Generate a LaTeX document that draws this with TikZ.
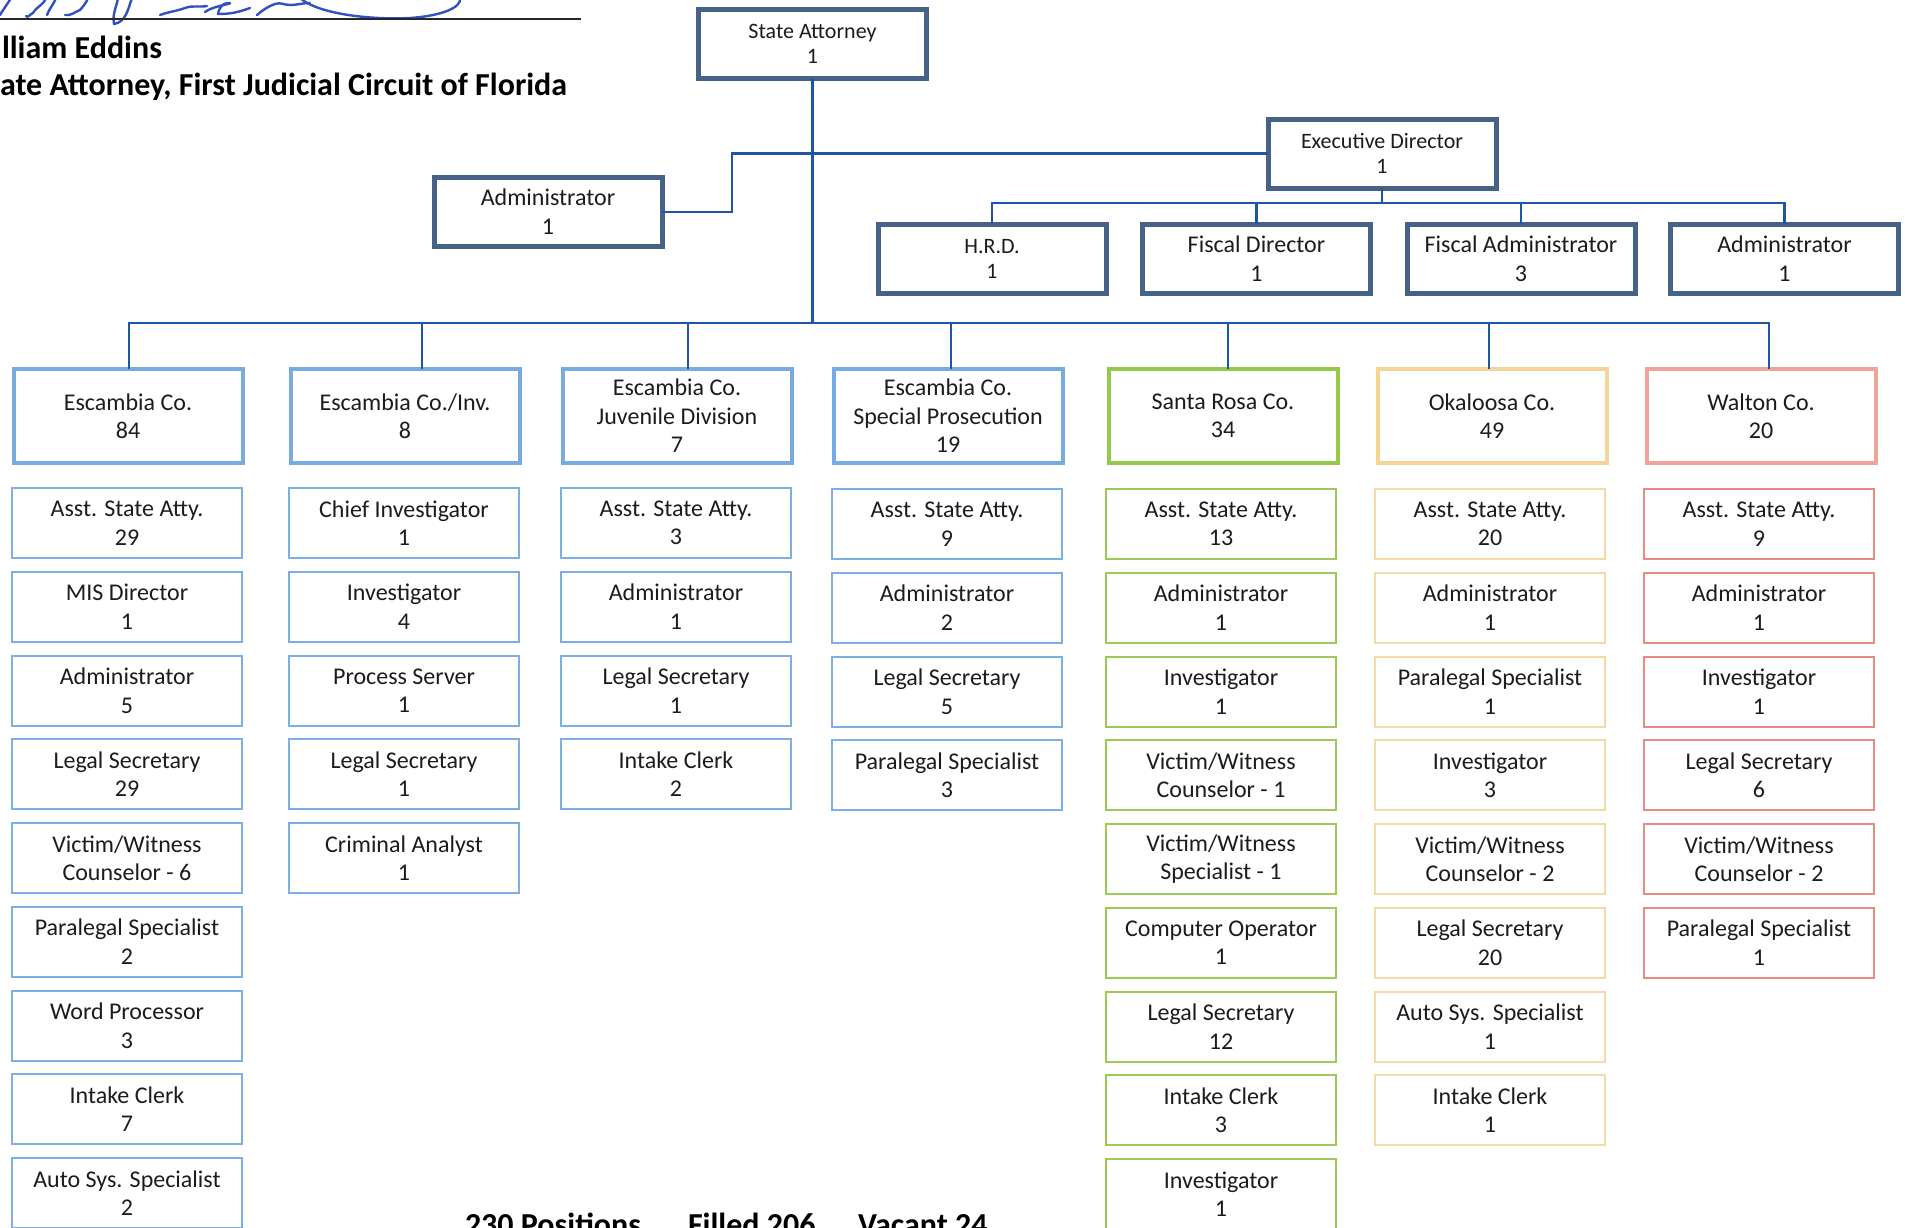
\documentclass[tikz,border=0pt]{standalone}
\usepackage{fontspec}
\setmainfont{Carlito}
\definecolor{topc}{RGB}{70,98,135}
\definecolor{linec}{RGB}{30,85,165}
\definecolor{escC}{RGB}{120,172,225}
\definecolor{escS}{RGB}{125,175,228}
\definecolor{srC}{RGB}{150,200,75}
\definecolor{srS}{RGB}{155,202,85}
\definecolor{okC}{RGB}{245,212,152}
\definecolor{okS}{RGB}{245,218,165}
\definecolor{waC}{RGB}{236,165,150}
\definecolor{waS}{RGB}{232,140,130}
\definecolor{txt}{RGB}{28,28,28}
\definecolor{ink}{RGB}{50,80,190}
\begin{document}
\begin{tikzpicture}[x=1pt,y=-1pt,
  every node/.style={text=txt},
  topbox/.style={draw=topc, line width=5pt, minimum width=228pt, minimum height=69pt,
    inner sep=0pt, outer sep=0pt, align=center, font=\fontsize{24}{29}\selectfont},
  smalltext/.style={font=\fontsize{22}{25}\selectfont},
  county/.style={draw=#1, line width=4pt, minimum width=229pt, minimum height=94pt,
    inner sep=0pt, outer sep=0pt, align=center, font=\fontsize{24}{28.5}\selectfont},
  sub/.style={draw=#1, line width=2pt, minimum width=230pt, minimum height=70pt,
    inner sep=0pt, outer sep=0pt, align=center, font=\fontsize{24}{28.5}\selectfont},
  conn/.style={draw=linec, line width=2.2pt},
  hdr/.style={inner sep=0pt, outer sep=0pt, font=\fontsize{32}{38}\selectfont\bfseries, text=black}
]
\useasboundingbox (0,0) rectangle (1905,1227);
\fill[white] (0,0) rectangle (1905,1227);

% signature and signature line
\begin{scope}[draw=ink, line width=2.4pt, line cap=round, line join=round]
  \draw (0,15) to[out=60,in=240] (11,-2);
  \draw (26,16) to[out=-60,in=200] (33,13) to[out=60,in=250] (46,-2);
  \draw (47,15) to[out=70,in=250] (56,-2);
  \draw (65,15) to[out=-10,in=200] (80,10) to[out=50,in=250] (88,-2);
  \draw (118,-2) to[out=260,in=100] (114,24) to[out=10,in=250] (132,-2);
  \draw (160,15) to[out=20,in=200] (185,8) to[out=20,in=190] (207,6);
  \draw (205,12) to[out=40,in=0] (228,3) to[out=180,in=80] (218,14) to[out=0,in=200] (250,8);
  \draw (257,15) to[out=40,in=200] (275,4) to[out=20,in=180] (290,5) to[out=0,in=180] (310,3);
  \draw (300,-2) .. controls (318,14) and (370,20) .. (410,18) .. controls (440,16) and (462,8) .. (460,-2);
\end{scope}
\draw[line width=2pt, black!85] (0,19) -- (581,19);
\node[hdr, anchor=base west] (nm) at (2,58) {lliam Eddins};
\node[hdr, anchor=base west] (ttl) at (0,95) {ate Attorney, First Judicial Circuit of Florida};

% top level
\node[topbox, smalltext] (sa) at (812.5,44) {State Attorney\\1};
\node[topbox, smalltext] (ed) at (1382,153.5) {Executive Director\\1};
\node[topbox] (adm) at (548,212) {Administrator\\1};
\node[topbox, smalltext] (hrd) at (992,258.5) {H.R.D.\\1};
\node[topbox] (fd) at (1256.5,258.5) {Fiscal Director\\1};
\node[topbox] (fa) at (1521,258.5) {Fiscal Administrator\\3};
\node[topbox] (adm2) at (1784.5,258.5) {Administrator\\1};

% county offices
\node[county=escC] (c1) at (128,416) {Escambia Co.\\84};
\node[county=escC] (c2) at (405,416) {Escambia Co./Inv.\\8};
\node[county=escC] (c3) at (677,416) {Escambia Co.\\Juvenile Division\\7};
\node[county=escC] (c4) at (948,416) {Escambia Co.\\Special Prosecution\\19};
\node[county=srC] (c5) at (1223,416) {Santa Rosa Co.\\34};
\node[county=okC] (c6) at (1492,416) {Okaloosa Co.\\49};
\node[county=waC] (c7) at (1761,416) {Walton Co.\\20};

% positions under each office
\foreach \txt [count=\i] in {{Asst. State Atty.\\29},{MIS Director\\1},{Administrator\\5},
    {Legal Secretary\\29},{Victim/Witness\\Counselor - 6},{Paralegal Specialist\\2},
    {Word Processor\\3},{Intake Clerk\\7},{Auto Sys. Specialist\\2}}
  \node[sub=escS] (c1r\i) at (127,{523+(\i-1)*83.75}) {\txt};
\foreach \txt [count=\i] in {{Chief Investigator\\1},{Investigator\\4},{Process Server\\1},
    {Legal Secretary\\1},{Criminal Analyst\\1}}
  \node[sub=escS] (c2r\i) at (404,{523+(\i-1)*83.75}) {\txt};
\foreach \txt [count=\i] in {{Asst. State Atty.\\3},{Administrator\\1},{Legal Secretary\\1},
    {Intake Clerk\\2}}
  \node[sub=escS] (c3r\i) at (676,{523+(\i-1)*83.75}) {\txt};
\foreach \txt [count=\i] in {{Asst. State Atty.\\9},{Administrator\\2},{Legal Secretary\\5},
    {Paralegal Specialist\\3}}
  \node[sub=escS] (c4r\i) at (947,{524+(\i-1)*83.75}) {\txt};
\foreach \txt [count=\i] in {{Asst. State Atty.\\13},{Administrator\\1},{Investigator\\1},
    {Victim/Witness\\Counselor - 1},{Victim/Witness\\Specialist - 1},{Computer Operator\\1},
    {Legal Secretary\\12},{Intake Clerk\\3},{Investigator\\1}}
  \node[sub=srS] (c5r\i) at (1221,{524+(\i-1)*83.75}) {\txt};
\foreach \txt [count=\i] in {{Asst. State Atty.\\20},{Administrator\\1},{Paralegal Specialist\\1},
    {Investigator\\3},{Victim/Witness\\Counselor - 2},{Legal Secretary\\20},
    {Auto Sys. Specialist\\1},{Intake Clerk\\1}}
  \node[sub=okS] (c6r\i) at (1490,{524+(\i-1)*83.75}) {\txt};
\foreach \txt [count=\i] in {{Asst. State Atty.\\9},{Administrator\\1},{Investigator\\1},
    {Legal Secretary\\6},{Victim/Witness\\Counselor - 2},{Paralegal Specialist\\1}}
  \node[sub=waS] (c7r\i) at (1759,{524+(\i-1)*83.75}) {\txt};

% reporting lines
\coordinate (ebus) at (0,203);
\coordinate (mbus) at (0,323);
\draw[conn] (sa.south) -- (sa.south |- mbus);
\draw[conn] (ed.west) -| ([xshift=70pt]adm.east) -- (adm.east);
\draw[conn] (ed.south) -- (ed.south |- ebus);
\draw[conn] (hrd.north) -- (hrd.north |- ebus) -| (adm2.north);
\draw[conn] (fd.north) -- (fd.north |- ebus);
\draw[conn] (fa.north) -- (fa.north |- ebus);
\draw[conn] ([xshift=1pt]c1.north) -- ([xshift=1pt]c1.north |- mbus)
  -- ([xshift=8pt]c7.north |- mbus) -- ([xshift=8pt]c7.north);
\foreach \n/\dx in {c2/17,c3/11,c4/3,c5/5,c6/-3}
  \draw[conn] ([xshift=\dx pt]\n.north) -- ([xshift=\dx pt]\n.north |- mbus);

% totals
\node[hdr, anchor=base west] (tot) at (465,1235) {230 Positions};
\node[hdr, anchor=base west] (fil) at (688,1235) {Filled 206};
\node[hdr, anchor=base west] (vac) at (858,1235) {Vacant 24};
\end{tikzpicture}
\end{document}
